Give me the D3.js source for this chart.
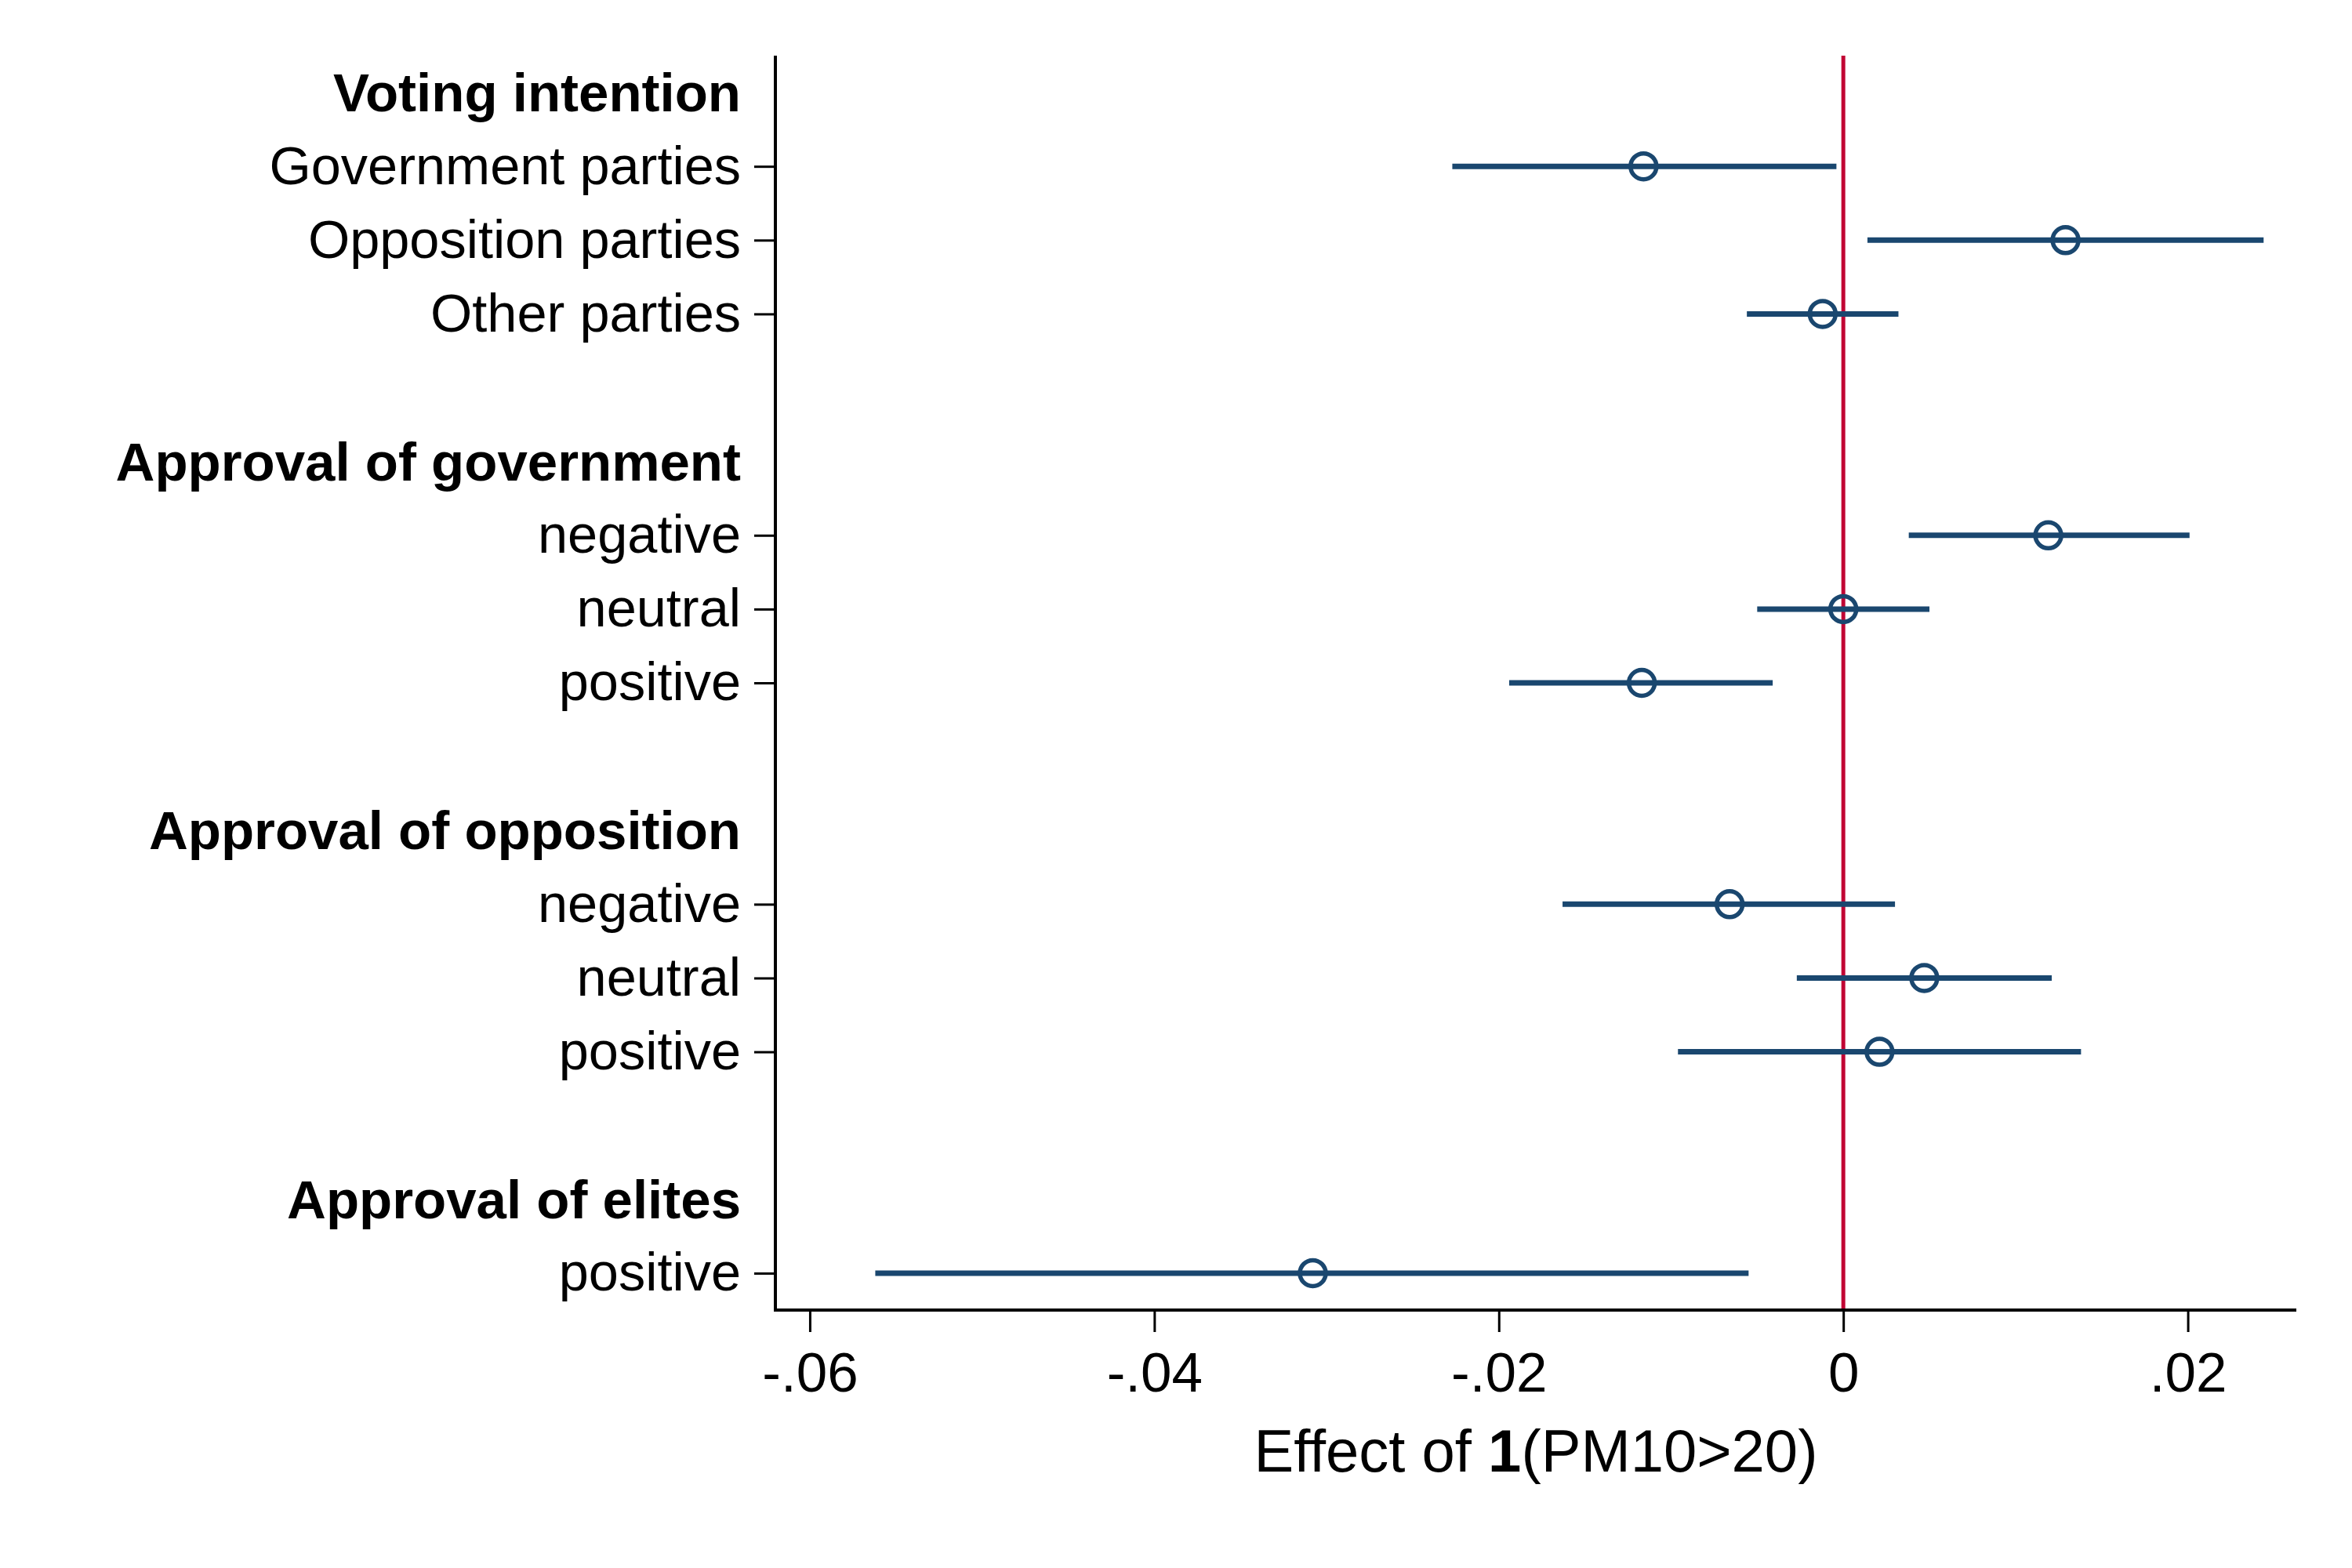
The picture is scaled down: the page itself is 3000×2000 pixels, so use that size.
<!DOCTYPE html>
<html>
<head>
<meta charset="utf-8">
<script src="https://cdn.jsdelivr.net/npm/d3@7"></script>
<style>
  html, body { margin: 0; padding: 0; background: #fff; }
  svg { display: block; }
</style>
</head>
<body>
<script>
// ---- data ----
const rowLabels = [
  "Voting intention", "Government parties", "Opposition parties", "Other parties", "",
  "Approval of government", "negative", "neutral", "positive", "",
  "Approval of opposition", "negative", "neutral", "positive", "",
  "Approval of elites", "positive"
];
const rowIsHeader = [1,0,0,0,0, 1,0,0,0,0, 1,0,0,0,0, 1,0];
// estimates (null for headers / spacers)
const estimate = [null, -0.0116, 0.0129, -0.0012, null,
  null, 0.0119, 0.0000, -0.0117, null,
  null, -0.0066, 0.0047, 0.0021, null,
  null, -0.0308];
const ciLow = [null, -0.0227, 0.0014, -0.0056, null,
  null, 0.0038, -0.0050, -0.0194, null,
  null, -0.0163, -0.0027, -0.0096, null,
  null, -0.0562];
const ciHigh = [null, -0.0004, 0.0244, 0.0032, null,
  null, 0.0201, 0.0050, -0.0041, null,
  null, 0.0030, 0.0121, 0.0138, null,
  null, -0.0055];
const xTickValues = [-0.06, -0.04, -0.02, 0, 0.02];
const xTickLabels = ["-.06", "-.04", "-.02", "0", ".02"];
const xTitlePlain = "Effect of ";
const xTitleBold = "1";
const xTitleRest = "(PM10>20)";

// ---- layout ----
const W = 3000, H = 2000;
const plot = { left: 989, right: 2929, top: 71, bottom: 1671 };
const font = "'Liberation Sans', Arial, Helvetica, sans-serif";
const navy = "#1a476f";
const red = "#c10534";

const svg = d3.select("body").append("svg")
  .attr("width", W).attr("height", H)
  .attr("viewBox", `0 0 ${W} ${H}`);
svg.append("rect").attr("width", W).attr("height", H).attr("fill", "#fff");

const rows = rowLabels.map((lab, i) => ({
  i, label: lab, header: !!rowIsHeader[i],
  est: estimate[i], lo: ciLow[i], hi: ciHigh[i]
}));

const x = d3.scaleLinear().domain([-0.062, 0.0263]).range([plot.left, plot.right]);
const y = d3.scalePoint().domain(rows.map(r => r.i)).range([plot.top, plot.bottom]).padding(0.5);

// reference line at 0
svg.append("line")
  .attr("x1", x(0)).attr("x2", x(0))
  .attr("y1", plot.top).attr("y2", plot.bottom)
  .attr("stroke", red).attr("stroke-width", 5);

// x axis
const xAxis = d3.axisBottom(x)
  .tickValues(xTickValues)
  .tickFormat((d, i) => xTickLabels[i])
  .tickSizeInner(28).tickSizeOuter(0).tickPadding(26);
const gx = svg.append("g").attr("transform", `translate(0,${plot.bottom})`).call(xAxis);
gx.select(".domain").attr("stroke", "#000").attr("stroke-width", 4)
  .attr("d", `M${plot.left - 2},0H${plot.right}`);
gx.selectAll(".tick line").attr("stroke", "#000").attr("stroke-width", 3);
gx.selectAll(".tick text").attr("font-family", font).attr("font-size", 71).attr("fill", "#000");

// y axis (items only get ticks)
const itemRows = rows.filter(r => !r.header && r.label !== "");
const yAxis = d3.axisLeft(y)
  .tickValues(itemRows.map(r => r.i))
  .tickFormat(i => rows[i].label)
  .tickSizeInner(27).tickSizeOuter(0).tickPadding(17);
const gy = svg.append("g").attr("transform", `translate(${plot.left},0)`).call(yAxis);
gy.select(".domain").attr("stroke", "#000").attr("stroke-width", 4)
  .attr("d", `M0,${plot.top}V${plot.bottom + 2}`);
gy.selectAll(".tick line").attr("stroke", "#000").attr("stroke-width", 3);
gy.selectAll(".tick text").attr("font-family", font).attr("font-size", 68.5).attr("fill", "#000");

// headers
svg.append("g").selectAll("text")
  .data(rows.filter(r => r.header))
  .join("text")
  .attr("x", plot.left - 27 - 17)
  .attr("y", r => y(r.i))
  .attr("dy", "0.35em")
  .attr("text-anchor", "end")
  .attr("font-family", font).attr("font-size", 69).attr("font-weight", "bold")
  .attr("fill", "#000")
  .text(r => r.label);

// CIs
const est = rows.filter(r => r.est !== null);
svg.append("g").selectAll("line")
  .data(est).join("line")
  .attr("x1", r => x(r.lo)).attr("x2", r => x(r.hi))
  .attr("y1", r => y(r.i)).attr("y2", r => y(r.i))
  .attr("stroke", navy).attr("stroke-width", 7);

// points
svg.append("g").selectAll("circle")
  .data(est).join("circle")
  .attr("cx", r => x(r.est)).attr("cy", r => y(r.i))
  .attr("r", 16.5)
  .attr("fill", "none").attr("stroke", navy).attr("stroke-width", 5.5);

// x title
const t = svg.append("text")
  .attr("x", (plot.left + plot.right) / 2)
  .attr("y", 1877)
  .attr("text-anchor", "middle")
  .attr("font-family", font).attr("font-size", 76).attr("fill", "#000");
t.append("tspan").text(xTitlePlain);
t.append("tspan").attr("font-weight", "bold").text(xTitleBold);
t.append("tspan").text(xTitleRest);
</script>
</body>
</html>
